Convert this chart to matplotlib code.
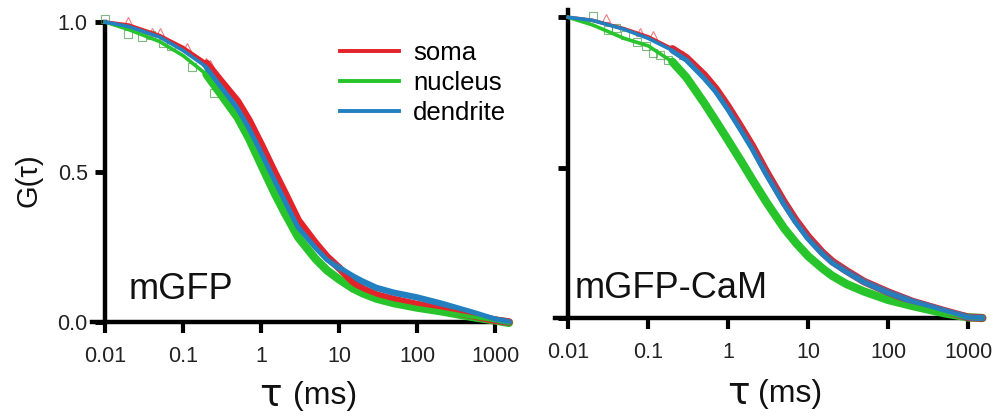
import matplotlib

matplotlib.use('Agg')

import matplotlib.pyplot as plt
import numpy as np
from matplotlib.axes import Axes

plt.rcParams['font.family'] = ['Liberation Sans', 'DejaVu Sans']

tau = [0.01, 0.02, 0.05, 0.1, 0.2, 0.3, 0.5, 0.7, 1, 1.5, 2, 3, 5, 7, 10,
       15, 20, 30, 50, 100, 200, 500, 1000, 1500]

# mGFP panel
somaL = [1.0, 0.99, 0.955, 0.915, 0.862, 0.805, 0.735, 0.672, 0.592, 0.497,
         0.432, 0.338, 0.262, 0.217, 0.18, 0.135, 0.11, 0.09, 0.075, 0.058,
         0.045, 0.022, 0.006, 0.0]
nucleusL = [1.0, 0.975, 0.935, 0.888, 0.825, 0.762, 0.682, 0.612, 0.525,
            0.428, 0.365, 0.282, 0.21, 0.172, 0.142, 0.112, 0.096, 0.078,
            0.063, 0.048, 0.036, 0.017, 0.005, -0.003]
dendriteL = [1.0, 0.985, 0.95, 0.905, 0.85, 0.79, 0.715, 0.65, 0.57, 0.475,
             0.41, 0.318, 0.25, 0.21, 0.18, 0.152, 0.135, 0.114, 0.098,
             0.082, 0.062, 0.032, 0.008, 0.0]

# mGFP-CaM panel
somaR = [1.0, 0.99, 0.962, 0.935, 0.895, 0.865, 0.808, 0.762, 0.702, 0.627,
         0.572, 0.486, 0.385, 0.325, 0.27, 0.218, 0.188, 0.157, 0.121,
         0.086, 0.055, 0.024, 0.002, 0.0]
nucleusR = [1.0, 0.975, 0.93, 0.905, 0.852, 0.8, 0.715, 0.655, 0.59, 0.515,
            0.46, 0.385, 0.298, 0.25, 0.205, 0.165, 0.14, 0.113, 0.088,
            0.06, 0.04, 0.016, 0.002, 0.0]
dendriteR = [1.0, 0.99, 0.96, 0.93, 0.89, 0.86, 0.80, 0.755, 0.695, 0.62,
             0.565, 0.48, 0.38, 0.32, 0.265, 0.215, 0.185, 0.155, 0.12,
             0.085, 0.055, 0.024, 0.002, 0.0]

# sparse raw points at short lag times
somaPtsTauL = [0.02, 0.04, 0.051, 0.112, 0.195, 0.22]
somaPtsL = [1.004, 0.968, 0.966, 0.918, 0.868, 0.86]
nucPtsTauL = [0.01, 0.02, 0.03, 0.039, 0.056, 0.07, 0.129, 0.246]
nucPtsL = [1.01, 0.959, 0.951, 0.957, 0.929, 0.92, 0.851, 0.762]
somaPtsTauR = [0.03, 0.079, 0.115, 0.27]
somaPtsR = [0.997, 0.952, 0.941, 0.875]
nucPtsTauR = [0.0205, 0.031, 0.04, 0.051, 0.072, 0.094, 0.115, 0.14, 0.178]
nucPtsR = [1.004, 0.958, 0.963, 0.941, 0.917, 0.906, 0.88, 0.875, 0.858]

xTicks = [0.01, 0.1, 1, 10, 100, 1000]
xTickLabels = ['0.01', '0.1', '1', '10', '100', '1000']
yTicks = [0.0, 0.5, 1.0]
yTickLabels = ['0.0', '0.5', '1.0']
labels = ['soma', 'nucleus', 'dendrite']

RED = '#e3232a'
GREEN = '#27c42c'
BLUE = '#2380c0'
INK = '#111111'
W, H = 999, 416


def drawPanel(ax: Axes, soma, nucleus, dendrite, somaPts, nucPts, xlim,
              spineTop, showYLabels):
    t = np.array(tau)
    band = t >= 0.2

    # raw points, drawn as dense bands of markers
    ax.plot(somaPts[0], somaPts[1], linestyle='none', marker='^',
            markersize=6, markerfacecolor='none', markeredgecolor=RED,
            markeredgewidth=0.8, alpha=0.6, zorder=3, clip_on=False)
    ax.plot(nucPts[0], nucPts[1], linestyle='none', marker='s',
            markersize=5.5, markerfacecolor='none', markeredgecolor='#4a9a4a',
            markeredgewidth=0.8, alpha=0.7, zorder=3, clip_on=False)
    ax.plot(t[band], np.array(nucleus)[band], color=GREEN, lw=6,
            solid_capstyle='round', zorder=3, clip_on=False)
    ax.plot(t[band], np.array(soma)[band], color=RED, lw=5.5,
            solid_capstyle='round', zorder=3, clip_on=False)
    ax.plot(t[band], np.array(dendrite)[band], color=BLUE, lw=4.5,
            solid_capstyle='round', zorder=3, clip_on=False)

    # fitted curves
    for vals, c in zip([soma, nucleus, dendrite], [RED, GREEN, BLUE]):
        ax.plot(tau, vals, color=c, lw=2.6, zorder=4, clip_on=False)

    ax.set_xscale('log')
    ax.set_xlim(*xlim)
    ax.set_ylim(0, 1.05)
    ax.minorticks_off()
    ax.set_xticks(xTicks)
    ax.set_xticklabels(xTickLabels)
    ax.set_yticks(yTicks)
    if showYLabels:
        ax.set_yticklabels(yTickLabels)
    else:
        ax.set_yticklabels([])

    for side in ['top', 'right']:
        ax.spines[side].set_visible(False)
    ax.spines['left'].set_position(('data', 0.01))
    ax.spines['left'].set_bounds(0, spineTop)
    for side in ['left', 'bottom']:
        ax.spines[side].set_linewidth(3.2)
        ax.spines[side].set_zorder(2.5)
    ax.tick_params(axis='x', length=8, width=3, pad=9, labelsize=15.5,
                   labelcolor='#222222')
    ax.tick_params(axis='y', length=7.5, width=3.5, pad=5, labelsize=15.5,
                   labelcolor='#222222')
    ax.patch.set_visible(False)


def xLabel(fig, xTau, xMs, yMid):
    fig.text(xTau / W, 1 - yMid / H, 'τ', fontsize=27, ha='center',
             va='center', color=INK, family='DejaVu Sans')
    fig.text(xMs / W, 1 - yMid / H, '(ms)', fontsize=23, ha='left',
             va='center', color=INK)


def main():
    fig = plt.figure(figsize=(W / 100, H / 100), dpi=100)

    axL = fig.add_axes([92 / W, (H - 322) / H, 418 / W, 315 / H])
    axR = fig.add_axes([555 / W, (H - 318) / H, 428 / W, 315.7 / H])

    drawPanel(axL, somaL, nucleusL, dendriteL,
              (somaPtsTauL, somaPtsL), (nucPtsTauL, nucPtsL),
              (10 ** -2.1667, 10 ** 3.19), 1.0, True)
    drawPanel(axR, somaR, nucleusR, dendriteR,
              (somaPtsTauR, somaPtsR), (nucPtsTauR, nucPtsR),
              (10 ** -2.166, 10 ** 3.184), 1.025, False)

    axL.text((129 - 92) / 418, (322 - 299) / 315, 'mGFP',
             transform=axL.transAxes, fontsize=26, va='baseline', ha='left',
             color=INK)
    axR.text((575 - 555) / 428, (318 - 298) / 315.7, 'mGFP-CaM',
             transform=axR.transAxes, fontsize=26, va='baseline', ha='left',
             color=INK)

    fig.text(28 / W, 1 - 180 / H, 'G(τ)', rotation=90, fontsize=21,
             ha='center', va='center', color=INK)
    xLabel(fig, 270, 293, 396)
    xLabel(fig, 738, 758, 394)

    handles = [plt.Line2D([], [], color=c, lw=2.8) for c in [RED, GREEN, BLUE]]
    fig.legend(handles, labels, loc='center left',
               bbox_to_anchor=(340 / W, 1 - 83 / H), frameon=False,
               fontsize=18.5, handlelength=2.3, handletextpad=0.55,
               labelspacing=0.25, borderpad=0, borderaxespad=0)

    fig.savefig('out.png', dpi=100)
    plt.close('all')


if __name__ == "__main__":
    main()
